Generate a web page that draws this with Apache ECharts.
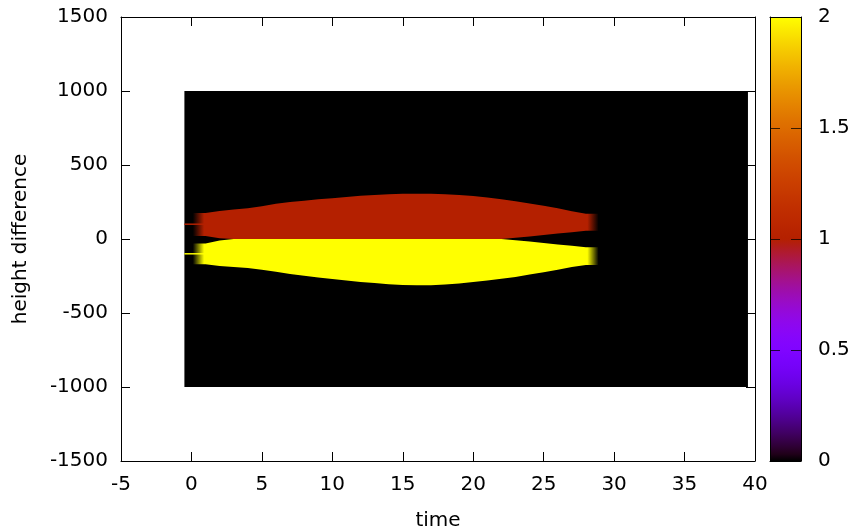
<!DOCTYPE html>
<html><head><meta charset="utf-8">
<script src="https://cdn.jsdelivr.net/npm/echarts@6/dist/echarts.min.js"></script>
<style>html,body{margin:0;padding:0;background:#fff}#c{width:854px;height:532px}</style>
</head><body><div id="c"></div>
<script>
// ---- data ----
const imageColumns = [0, 39];          // first / last time column of the image
const imageRows = [-1000, 1000];       // height range of the image
const bandColumns = [1,2,3,4,5,6,7,8,9,10,11,12,13,14,15,16,17,18,19,20,21,22,23,24,25,26,27,28];
const redTop      = [175,190,200,208,222,238,250,258,268,276,284,292,298,303,306,306,305,302,297,290,280,268,255,240,225,207,188,170];
const redBottom   = [20,5,0,0,0,0,0,0,0,0,0,0,0,0,0,0,0,0,0,0,0,0,8,17,27,37,46,55];
const yellowTop   = [-30,-10,0,0,0,0,0,0,0,0,0,0,0,0,0,0,0,0,0,0,0,0,-8,-17,-27,-37,-46,-55];
const yellowBottom= [-170,-182,-190,-196,-207,-222,-237,-248,-260,-270,-280,-290,-298,-306,-311,-313,-312,-307,-300,-291,-280,-268,-256,-240,-224,-207,-190,-175];
const firstColumn = 0;
const firstColumnRed = [95, 105];
const firstColumnYellow = [-105, -95];
const redValue = 1, yellowValue = 2, backgroundValue = 0;
const cbRange = [0, 2];

// ---- gnuplot palette rgbformulae 7,5,15 ----
function paletteRGB(v) {
  const t = Math.max(0, Math.min(1, (v - cbRange[0]) / (cbRange[1] - cbRange[0])));
  const r = Math.sqrt(t), g = t * t * t;
  let b = Math.sin(2 * Math.PI * t); b = Math.max(0, Math.min(1, b));
  return [Math.round(r * 255), Math.round(g * 255), Math.round(b * 255)];
}
function rgba(v, a) { const c = paletteRGB(v); return 'rgba(' + c[0] + ',' + c[1] + ',' + c[2] + ',' + a + ')'; }

const blur = 0.4;
const FONT = 'DejaVu Sans';
const FS = 20;

function bandShape(api, tops, bottoms, value) {
  const n = bandColumns.length;
  const left = bandColumns[0] - 0.5 - blur, right = bandColumns[n - 1] + 0.5 + blur;
  const pts = [];
  pts.push(api.coord([left, tops[0]]));
  for (let i = 0; i < n; i++) pts.push(api.coord([bandColumns[i], tops[i]]));
  pts.push(api.coord([right, tops[n - 1]]));
  pts.push(api.coord([right, bottoms[n - 1]]));
  for (let i = n - 1; i >= 0; i--) pts.push(api.coord([bandColumns[i], bottoms[i]]));
  pts.push(api.coord([left, bottoms[0]]));
  const x0 = api.coord([left, 0])[0], x1 = api.coord([right, 0])[0];
  const a = (api.coord([bandColumns[0] - 0.5 + blur, 0])[0] - x0) / (x1 - x0);
  const b = (api.coord([bandColumns[n - 1] + 0.5 - blur, 0])[0] - x0) / (x1 - x0);
  const fill = new echarts.graphic.LinearGradient(x0, 0, x1, 0, [
    { offset: 0, color: rgba(value, 0) },
    { offset: a, color: rgba(value, 1) },
    { offset: b, color: rgba(value, 1) },
    { offset: 1, color: rgba(value, 0) }
  ], true);
  return { type: 'polygon', shape: { points: pts }, style: { fill: fill } };
}

function rectFrom(api, x0, y0, x1, y1, fill) {
  const p0 = api.coord([x0, y1]), p1 = api.coord([x1, y0]);
  return { type: 'rect', shape: { x: p0[0], y: p0[1], width: p1[0] - p0[0], height: p1[1] - p0[1] }, style: { fill: fill } };
}

const txt = { color: '#000', fontSize: FS, fontFamily: FONT };
const tickStyle = { color: '#000', width: 1 };
const plain = function (v) { return String(v); };

function mainX(pos, labels) {
  return {
    type: 'value', gridIndex: 0, position: pos, min: -5, max: 40, interval: 5,
    axisLine: { show: true, onZero: false, lineStyle: tickStyle },
    axisTick: { show: true, inside: true, length: 9, lineStyle: tickStyle },
    axisLabel: { show: labels, margin: 14, formatter: plain, ...txt },
    splitLine: { show: false }
  };
}
function mainY(pos, labels) {
  return {
    type: 'value', gridIndex: 0, position: pos, min: -1500, max: 1500, interval: 500,
    axisLine: { show: true, onZero: false, lineStyle: tickStyle },
    axisTick: { show: true, inside: true, length: 9, lineStyle: tickStyle },
    axisLabel: { show: labels, margin: 13, formatter: plain, ...txt },
    splitLine: { show: false }
  };
}

const xBottom = mainX('bottom', true);
xBottom.name = 'time'; xBottom.nameLocation = 'middle'; xBottom.nameGap = 50; xBottom.nameTextStyle = txt;
const yLeft = mainY('left', true);
yLeft.name = 'height difference'; yLeft.nameLocation = 'middle'; yLeft.nameGap = 90; yLeft.nameTextStyle = txt;

const chart = echarts.init(document.getElementById('c'), null, { renderer: 'canvas' });
chart.setOption({
  animation: false,
  backgroundColor: '#fff',
  grid: [
    { left: 121, right: 99, top: 17, bottom: 71, outerBoundsMode: 'none', containLabel: false },
    { left: 770, top: 17, width: 31, height: 444, outerBoundsMode: 'none', containLabel: false }
  ],
  xAxis: [
    xBottom,
    mainX('top', false),
    { type: 'value', gridIndex: 1, position: 'bottom', min: 0, max: 1, z: 10,
      axisLine: { show: true, onZero: false, lineStyle: tickStyle }, axisTick: { show: false }, axisLabel: { show: false }, splitLine: { show: false } },
    { type: 'value', gridIndex: 1, position: 'top', min: 0, max: 1, z: 10,
      axisLine: { show: true, onZero: false, lineStyle: tickStyle }, axisTick: { show: false }, axisLabel: { show: false }, splitLine: { show: false } }
  ],
  yAxis: [
    yLeft,
    mainY('right', false),
    { type: 'value', gridIndex: 1, position: 'right', min: cbRange[0], max: cbRange[1], interval: 0.5, z: 10,
      axisLine: { show: true, onZero: false, lineStyle: tickStyle },
      axisTick: { show: true, inside: true, length: 10, lineStyle: { color: 'rgba(0,0,0,0.75)', width: 1 } },
      axisLabel: { show: true, margin: 17, formatter: plain, ...txt }, splitLine: { show: false } },
    { type: 'value', gridIndex: 1, position: 'left', min: cbRange[0], max: cbRange[1], interval: 0.5, z: 10,
      axisLine: { show: true, onZero: false, lineStyle: tickStyle },
      axisTick: { show: true, inside: true, length: 10, lineStyle: { color: 'rgba(0,0,0,0.75)', width: 1 } },
      axisLabel: { show: false }, splitLine: { show: false } }
  ],
  series: [
    { // image background (value 0 cells)
      type: 'custom', xAxisIndex: 0, yAxisIndex: 0, data: [[0, 0]], silent: true,
      renderItem: function (params, api) {
        return rectFrom(api, imageColumns[0] - 0.5, imageRows[0], imageColumns[1] + 0.5, imageRows[1], rgba(backgroundValue, 1));
      }
    },
    { // bands
      type: 'custom', xAxisIndex: 0, yAxisIndex: 0, data: [[redValue, 0], [yellowValue, 0]], silent: true,
      renderItem: function (params, api) {
        if (params.dataIndex === 0) return bandShape(api, redTop, redBottom, redValue);
        return bandShape(api, yellowTop, yellowBottom, yellowValue);
      }
    },
    { // first column thin lines
      type: 'custom', xAxisIndex: 0, yAxisIndex: 0, data: [[redValue, 0], [yellowValue, 0]], silent: true,
      renderItem: function (params, api) {
        const r = params.dataIndex === 0 ? firstColumnRed : firstColumnYellow;
        const v = params.dataIndex === 0 ? redValue : yellowValue;
        return rectFrom(api, firstColumn - 0.5, r[0], firstColumn + 1, r[1], rgba(v, 1));
      }
    },
    { // colour box
      type: 'custom', xAxisIndex: 2, yAxisIndex: 2, data: [[0, 0]], silent: true,
      renderItem: function (params, api) {
        const p0 = api.coord([0, cbRange[1]]), p1 = api.coord([1, cbRange[0]]);
        const stops = [];
        for (let i = 0; i <= 64; i++) {
          const v = cbRange[0] + (cbRange[1] - cbRange[0]) * i / 64;
          stops.push({ offset: i / 64, color: rgba(v, 1) });
        }
        return { type: 'rect', shape: { x: p0[0], y: p0[1], width: p1[0] - p0[0], height: p1[1] - p0[1] },
          style: { fill: new echarts.graphic.LinearGradient(0, 1, 0, 0, stops) } };
      }
    }
  ]
});
</script>
</body></html>
